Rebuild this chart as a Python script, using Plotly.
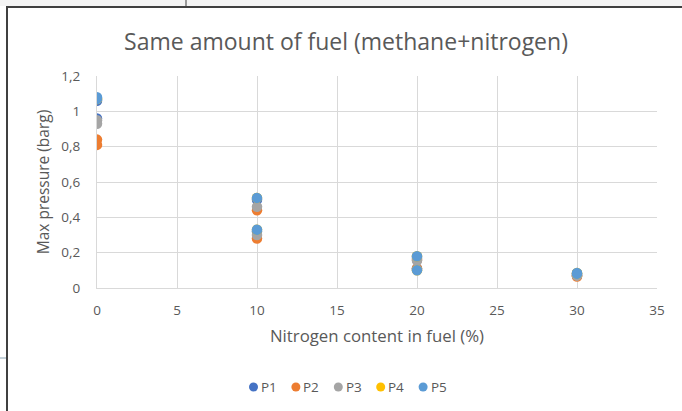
import plotly.graph_objects as go

# Data
nitrogen = [0, 0, 10, 10, 20, 20, 30, 30]
series_names = ["P1", "P2", "P3", "P4", "P5"]
p1 = [1.06, 0.96, 0.50, 0.32, 0.17, 0.11, 0.08, 0.07]
p2 = [0.84, 0.81, 0.44, 0.28, 0.16, 0.11, 0.07, 0.065]
p3 = [0.95, 0.93, 0.46, 0.30, 0.155, 0.105, 0.075, 0.07]
p4 = [1.07, 1.07, 0.51, 0.33, 0.18, 0.10, 0.085, 0.08]
p5 = [1.08, 1.07, 0.51, 0.33, 0.18, 0.10, 0.085, 0.08]
series_values = [p1, p2, p3, p4, p5]
colors = ["#4472C4", "#ED7D31", "#A5A5A5", "#FFC000", "#5B9BD5"]
x_ticks = [0, 5, 10, 15, 20, 25, 30, 35]
y_ticks = [0, 0.2, 0.4, 0.6, 0.8, 1.0, 1.2]
y_tick_labels = ["0", "0,2", "0,4", "0,6", "0,8", "1", "1,2"]

W, H = 682, 411
L, R, T, B = 97, 25, 76, 123
pw, ph = W - L - R, H - T - B

def px(x):
    return (x - L) / pw

def py(y):
    return (H - B - y) / ph

fig = go.Figure()
for name, vals, c in zip(series_names, series_values, colors):
    fig.add_trace(go.Scatter(
        x=nitrogen, y=vals, mode="markers", name=name, showlegend=False,
        marker=dict(color=c, size=10.5, line=dict(width=0)),
    ))

font_family = "Open Sans, Noto Sans, sans-serif"
grey = "#595959"

fig.update_layout(
    width=W, height=H,
    margin=dict(l=L, r=R, t=T, b=B),
    paper_bgcolor="white", plot_bgcolor="white",
    separators=", ",
    font=dict(family=font_family, color=grey, size=13),
    title=dict(text="Same amount of fuel (methane+nitrogen)", x=346 / W, xanchor="center",
               y=1 - 42 / H, yanchor="middle", font=dict(size=23, color=grey)),
    xaxis=dict(range=[0, 35], tickvals=x_ticks,
               showgrid=True, gridcolor="#d9d9d9", gridwidth=1, zeroline=False,
               showline=True, linecolor="#d9d9d9", ticks="", ticklen=0, ticklabelstandoff=10,
               title=dict(text="Nitrogen content in fuel (%)", font=dict(size=16.8, color=grey), standoff=12),
               tickfont=dict(size=13.5, color=grey)),
    yaxis=dict(range=[0, 1.2], tickvals=y_ticks, ticktext=y_tick_labels,
               showgrid=True, gridcolor="#d9d9d9", gridwidth=1, zeroline=False,
               showline=True, linecolor="#d9d9d9", ticks="", ticklen=0, ticklabelstandoff=13,
               title=dict(text="Max pressure (barg)", font=dict(size=15.5, color=grey), standoff=7),
               tickfont=dict(size=13.5, color=grey)),
    showlegend=False,
)

# frame artifacts of the screenshot
shapes = [
    dict(type="rect", xref="paper", yref="paper", x0=px(0), x1=px(W), y0=py(0), y1=py(6),
         fillcolor="#f4f4f4", line=dict(width=0), layer="below"),
    dict(type="line", xref="paper", yref="paper", x0=px(6), x1=px(W), y0=py(7), y1=py(7),
         line=dict(color="#404040", width=2)),
    dict(type="line", xref="paper", yref="paper", x0=px(7), x1=px(7), y0=py(7), y1=py(H),
         line=dict(color="#404040", width=2)),
    dict(type="line", xref="paper", yref="paper", x0=px(186), x1=px(186), y0=py(0), y1=py(7),
         line=dict(color="#404040", width=1)),
    dict(type="line", xref="paper", yref="paper", x0=px(0), x1=px(6), y0=py(358), y1=py(358),
         line=dict(color="#8aa4b4", width=1)),
]

# compact legend (Excel style): marker circles + labels
annotations = []
leg_x0, leg_step, leg_y = 253.5, 42.4, 387
for i, (name, c) in enumerate(zip(series_names, colors)):
    cx = leg_x0 + i * leg_step
    shapes.append(dict(type="circle", xref="paper", yref="paper",
                       xsizemode="pixel", ysizemode="pixel",
                       xanchor=px(cx), yanchor=py(leg_y),
                       x0=-4.5, x1=4.5, y0=-4.5, y1=4.5,
                       fillcolor=c, line=dict(width=0)))
    annotations.append(dict(text=name, xref="paper", yref="paper",
                            x=px(cx + 5.5), y=py(leg_y), xanchor="left", yanchor="middle",
                            showarrow=False, font=dict(size=13.5, color=grey)))

fig.update_layout(shapes=shapes, annotations=annotations)

fig.write_html("out.html", config={"displayModeBar": False},
               post_script="document.body.style.margin='0';document.body.style.overflow='hidden';")
